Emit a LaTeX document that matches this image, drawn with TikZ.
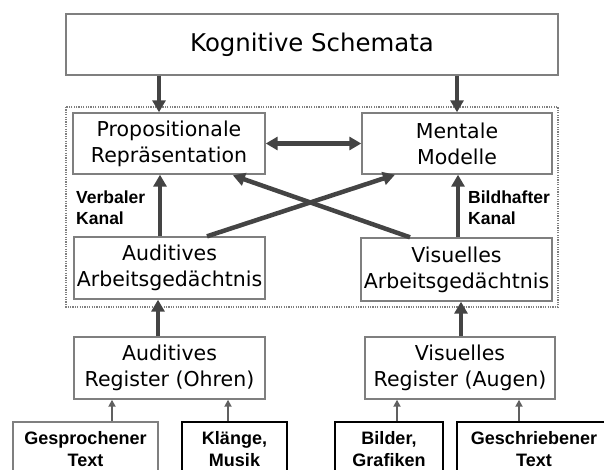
\documentclass[tikz,border=0pt]{standalone}
\usepackage{fontspec}
\setmainfont{DejaVu Sans}
\newfontfamily\labelfont{Liberation Sans}
\usetikzlibrary{arrows.meta}
\definecolor{boxline}{HTML}{7F7F7F}
\definecolor{arrowgray}{HTML}{444444}

\begin{document}
\begin{tikzpicture}[x=1pt,y=-1pt,
  box/.style={draw=boxline,line width=1.4pt,align=center,inner sep=0pt,
    font=\fontsize{20.5}{26}\selectfont},
  inbox/.style={draw=black,line width=1.4pt,align=center,inner sep=0pt,
    minimum height=54pt,font=\labelfont\bfseries\fontsize{18}{22}\selectfont},
  bigarrow/.style={draw=arrowgray,line width=4.5pt,
    arrows={-Triangle[width=13pt,length=12pt]}},
  bigboth/.style={draw=arrowgray,line width=4.5pt,
    arrows={Triangle[width=13pt,length=12pt]-Triangle[width=13pt,length=12pt]}},
  smallarrow/.style={draw=arrowgray!85,line width=1.8pt,
    arrows={-Triangle[width=7pt,length=7pt]}},
  kanal/.style={align=left,inner sep=0pt,anchor=west,
    font=\labelfont\bfseries\fontsize{17.5}{21}\selectfont}]
\useasboundingbox (0,0) rectangle (604,470);
\clip (0,0) rectangle (604,470);

% dotted frame round the working memory
\draw[boxline,line width=1.2pt,dash pattern=on 1.2pt off 1.2pt] (66,107) rectangle (558,307);

\node[box,minimum width=492pt,minimum height=61pt,font=\fontsize{24.4}{30}\selectfont]
  (schemata) at (312,44.5) {Kognitive Schemata};
\node[box,minimum width=192pt,minimum height=61pt] (prop) at (169,143.5)
  {Propositionale\\Repräsentation};
\node[box,minimum width=190pt,minimum height=61pt] (mentale) at (457,143.5)
  {Mentale\\Modelle};
\node[box,minimum width=191pt,minimum height=62pt] (audag) at (169.5,268)
  {Auditives\\Arbeitsgedächtnis};
\node[box,minimum width=191pt,minimum height=63pt] (visag) at (456.5,269.5)
  {Visuelles\\Arbeitsgedächtnis};
\node[box,minimum width=191pt,minimum height=62pt] (audreg) at (169.5,368)
  {Auditives\\Register (Ohren)};
\node[box,minimum width=190pt,minimum height=62pt] (visreg) at (460,368)
  {Visuelles\\Register (Augen)};

\node[kanal] (verbal) at (76,208) {Verbaler\\Kanal};
\node[kanal] (bild) at (468,208) {Bildhafter\\Kanal};

% sources
\node[inbox,draw=boxline,minimum width=145pt] (gesp) at (85.5,449) {Gesprochener\\Text};
\node[inbox,minimum width=105pt] (klaenge) at (234.5,449) {Klänge,\\Musik};
\node[inbox,minimum width=108pt] (bilder) at (389,449) {Bilder,\\Grafiken};
\node[inbox,minimum width=154pt] (geschr) at (534,449) {Geschriebener\\Text};

\draw[bigarrow] ([xshift=-153pt]schemata.south) -- ([xshift=-10pt]prop.north);
\draw[bigarrow] ([xshift=145pt]schemata.south) -- (mentale.north);
\draw[bigboth] (prop.east) -- (mentale.west);
\draw[bigarrow] ([xshift=-9.5pt]audag.north) -- ([xshift=-9pt]prop.south);
\draw[bigarrow] ([xshift=1.5pt]visag.north) -- ([xshift=1pt]mentale.south);
\draw[bigarrow] ([xshift=37.5pt]audag.north) -- ([xshift=-62pt]mentale.south);
\draw[bigarrow,shorten >=2pt] ([xshift=-46.5pt]visag.north) -- ([xshift=62pt]prop.south);
\draw[bigarrow] ([xshift=-11.5pt]audreg.north) -- ([xshift=-11.5pt]audag.south);
\draw[bigarrow] ([xshift=1pt]visreg.north) -- ([xshift=4.5pt]visag.south);

\draw[smallarrow] ([xshift=26.5pt]gesp.north) -- ([xshift=-57.5pt]audreg.south);
\draw[smallarrow] ([xshift=-6.5pt]klaenge.north) -- ([xshift=58.5pt]audreg.south);
\draw[smallarrow] ([xshift=8pt]bilder.north) -- ([xshift=-63pt]visreg.south);
\draw[smallarrow] ([xshift=-15pt]geschr.north) -- ([xshift=59pt]visreg.south);
\end{tikzpicture}
\end{document}
